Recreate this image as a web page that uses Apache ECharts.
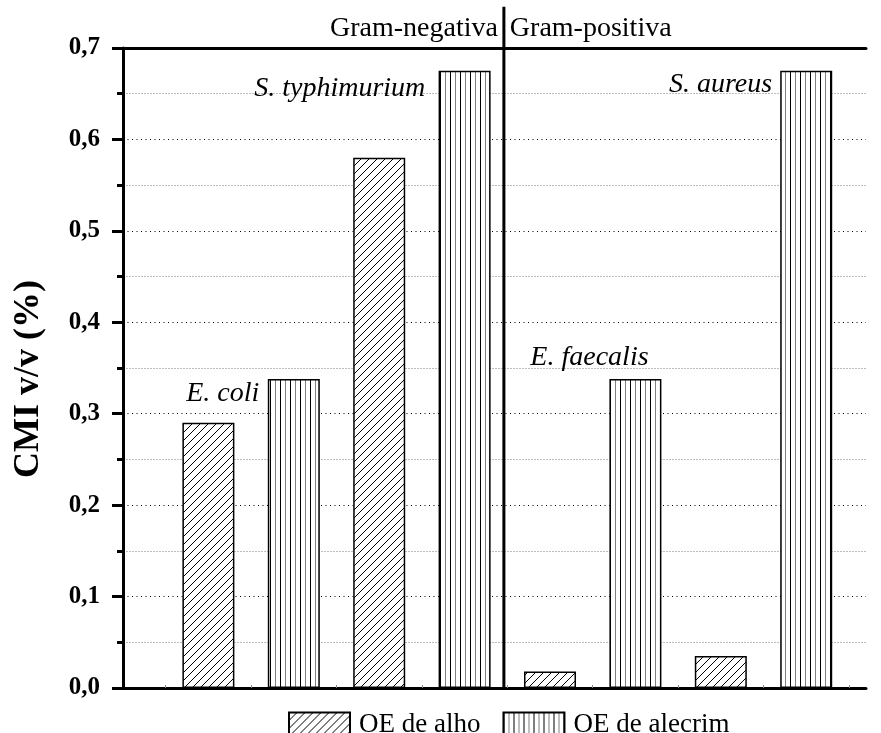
<!DOCTYPE html>
<html>
<head>
<meta charset="utf-8">
<title>CMI v/v (%)</title>
<script src="https://cdn.jsdelivr.net/npm/echarts@6/dist/echarts.min.js"></script>
<style>
  html, body { margin: 0; padding: 0; background: #fff; }
  #chart { width: 881px; height: 733px; }
</style>
</head>
<body>
<div id="chart"></div>
<script>
// Bar slots along the horizontal axis (one slot per bar)
const alhoPositions = [1, 3, 5, 7];
const alhoValues = [0.29, 0.58, 0.018, 0.035];
const alecrimPositions = [2, 4, 6, 8];
const alecrimValues = [0.338, 0.675, 0.338, 0.675];

const seriesNames = ['OE de alho', 'OE de alecrim'];

// Species annotations (anchored in data units)
const speciesNames = ['E. coli', 'S. typhimurium', 'E. faecalis', 'S. aureus'];
const speciesX = [0.74, 3.54, 4.77, 7.60];
const speciesY = [0.322, 0.656, 0.361, 0.660];
const speciesAlign = ['left', 'right', 'left', 'right'];

// Group divider and headings
const groupNames = ['Gram-negativa', 'Gram-positiva'];
const dividerX = 4.46;
const headingY = 0.721;
const dividerTop = 0.745;

const yMin = 0, yMax = 0.7, yStep = 0.1;
const xMin = 0, xMax = 8.7;
const xTickValues = [0.5, 1.5, 2.5, 3.5, 4.5, 5.5, 6.5, 7.5, 8.5];

const serif = "'Liberation Serif', 'Times New Roman', serif";

// Hatch fills
function diagonalHatch() {
  const c = document.createElement('canvas');
  c.width = 8; c.height = 8;
  const g = c.getContext('2d');
  g.fillStyle = '#fff';
  g.fillRect(0, 0, 8, 8);
  g.strokeStyle = '#000';
  g.lineWidth = 1;
  g.beginPath();
  g.moveTo(0, 8); g.lineTo(8, 0);
  g.moveTo(-1, 1); g.lineTo(1, -1);
  g.moveTo(7, 9); g.lineTo(9, 7);
  g.stroke();
  return c;
}
function verticalHatch() {
  const c = document.createElement('canvas');
  c.width = 10; c.height = 10;
  const g = c.getContext('2d');
  g.fillStyle = '#fff';
  g.fillRect(0, 0, 10, 10);
  g.fillStyle = '#000';
  g.fillRect(0, 0, 1, 10);
  g.fillStyle = '#808080';
  g.fillRect(5, 0, 1, 10);
  return c;
}

const chart = echarts.init(document.getElementById('chart'), null, { renderer: 'canvas' });

const annotationData = speciesNames.map((n, i) => ({
  value: [speciesX[i], speciesY[i]],
  label: { formatter: n, align: speciesAlign[i], fontStyle: 'italic' }
}));
annotationData.push({
  value: [dividerX - 0.07, headingY],
  label: { formatter: groupNames[0], align: 'right', fontStyle: 'normal' }
});
annotationData.push({
  value: [dividerX + 0.07, headingY],
  label: { formatter: groupNames[1], align: 'left', fontStyle: 'normal' }
});

const option = {
  backgroundColor: '#fff',
  animation: false,
  textStyle: { fontFamily: serif },
  grid: { left: 123, right: 15, top: 48, bottom: 45, containLabel: false },
  legend: {
    data: seriesNames,
    left: 288,
    top: 711,
    padding: 0,
    icon: 'rect',
    itemWidth: 61,
    itemHeight: 24,
    itemGap: 22,
    textStyle: { fontFamily: serif, fontSize: 27, color: '#000', padding: [0, 0, 0, 4] },
    selectedMode: false
  },
  xAxis: [
    {
      type: 'value',
      min: xMin, max: xMax,
      position: 'bottom',
      axisLine: { show: true, lineStyle: { color: '#000', width: 3 } },
      axisTick: { show: true, inside: true, length: 3, customValues: xTickValues, lineStyle: { color: '#888', width: 1 } },
      axisLabel: { show: false },
      splitLine: { show: false }
    },
    {
      type: 'value',
      min: xMin, max: xMax,
      position: 'top',
      axisLine: { show: true, lineStyle: { color: '#000', width: 3 } },
      axisTick: { show: false },
      axisLabel: { show: false },
      splitLine: { show: false }
    }
  ],
  yAxis: {
    type: 'value',
    min: yMin, max: yMax, interval: yStep,
    name: 'CMI v/v (%)',
    nameLocation: 'middle',
    nameGap: 76,
    nameTextStyle: { fontFamily: serif, fontSize: 36, fontWeight: 'bold', color: '#000', padding: [0, 22, 0, 0] },
    axisLine: { show: true, lineStyle: { color: '#000', width: 3 } },
    axisTick: { show: true, inside: false, length: 11, lineStyle: { color: '#000', width: 3 } },
    minorTick: { show: true, splitNumber: 2, length: 6, lineStyle: { color: '#000', width: 3 } },
    axisLabel: {
      margin: 23,
      fontFamily: serif, fontSize: 25, fontWeight: 'bold', color: '#000',
      formatter: v => v.toFixed(1).replace('.', ',')
    },
    splitLine: { show: true, lineStyle: { color: '#000', width: 1, type: [1, 3.5] } },
    minorSplitLine: { show: true, lineStyle: { color: '#bdbdbd', width: 1, type: [2, 1] } }
  },
  series: [
    {
      name: seriesNames[0],
      type: 'bar',
      barWidth: 52,
      barGap: '-100%',
      itemStyle: {
        color: { image: diagonalHatch(), repeat: 'repeat' },
        borderColor: '#000',
        borderWidth: 1.5
      },
      data: alhoPositions.map((x, i) => [x, alhoValues[i]])
    },
    {
      name: seriesNames[1],
      type: 'bar',
      barWidth: 52,
      barGap: '-100%',
      itemStyle: {
        color: { image: verticalHatch(), repeat: 'repeat' },
        borderColor: '#000',
        borderWidth: 1.5
      },
      data: alecrimPositions.map((x, i) => [x, alecrimValues[i]])
    },
    {
      // divider between the two bacterial groups
      type: 'line',
      silent: true,
      clip: false,
      symbol: 'none',
      lineStyle: { color: '#000', width: 3 },
      data: [[dividerX, yMin], [dividerX, dividerTop]],
      z: 5
    },
    {
      type: 'scatter',
      silent: true,
      clip: false,
      symbolSize: 1,
      itemStyle: { color: 'rgba(0,0,0,0)', opacity: 1 },
      label: {
        show: true,
        position: 'inside',
        verticalAlign: 'middle',
        fontFamily: serif,
        fontSize: 28,
        color: '#000',
        opacity: 1
      },
      data: annotationData,
      z: 6
    }
  ]
};

chart.setOption(option);
</script>
</body>
</html>
